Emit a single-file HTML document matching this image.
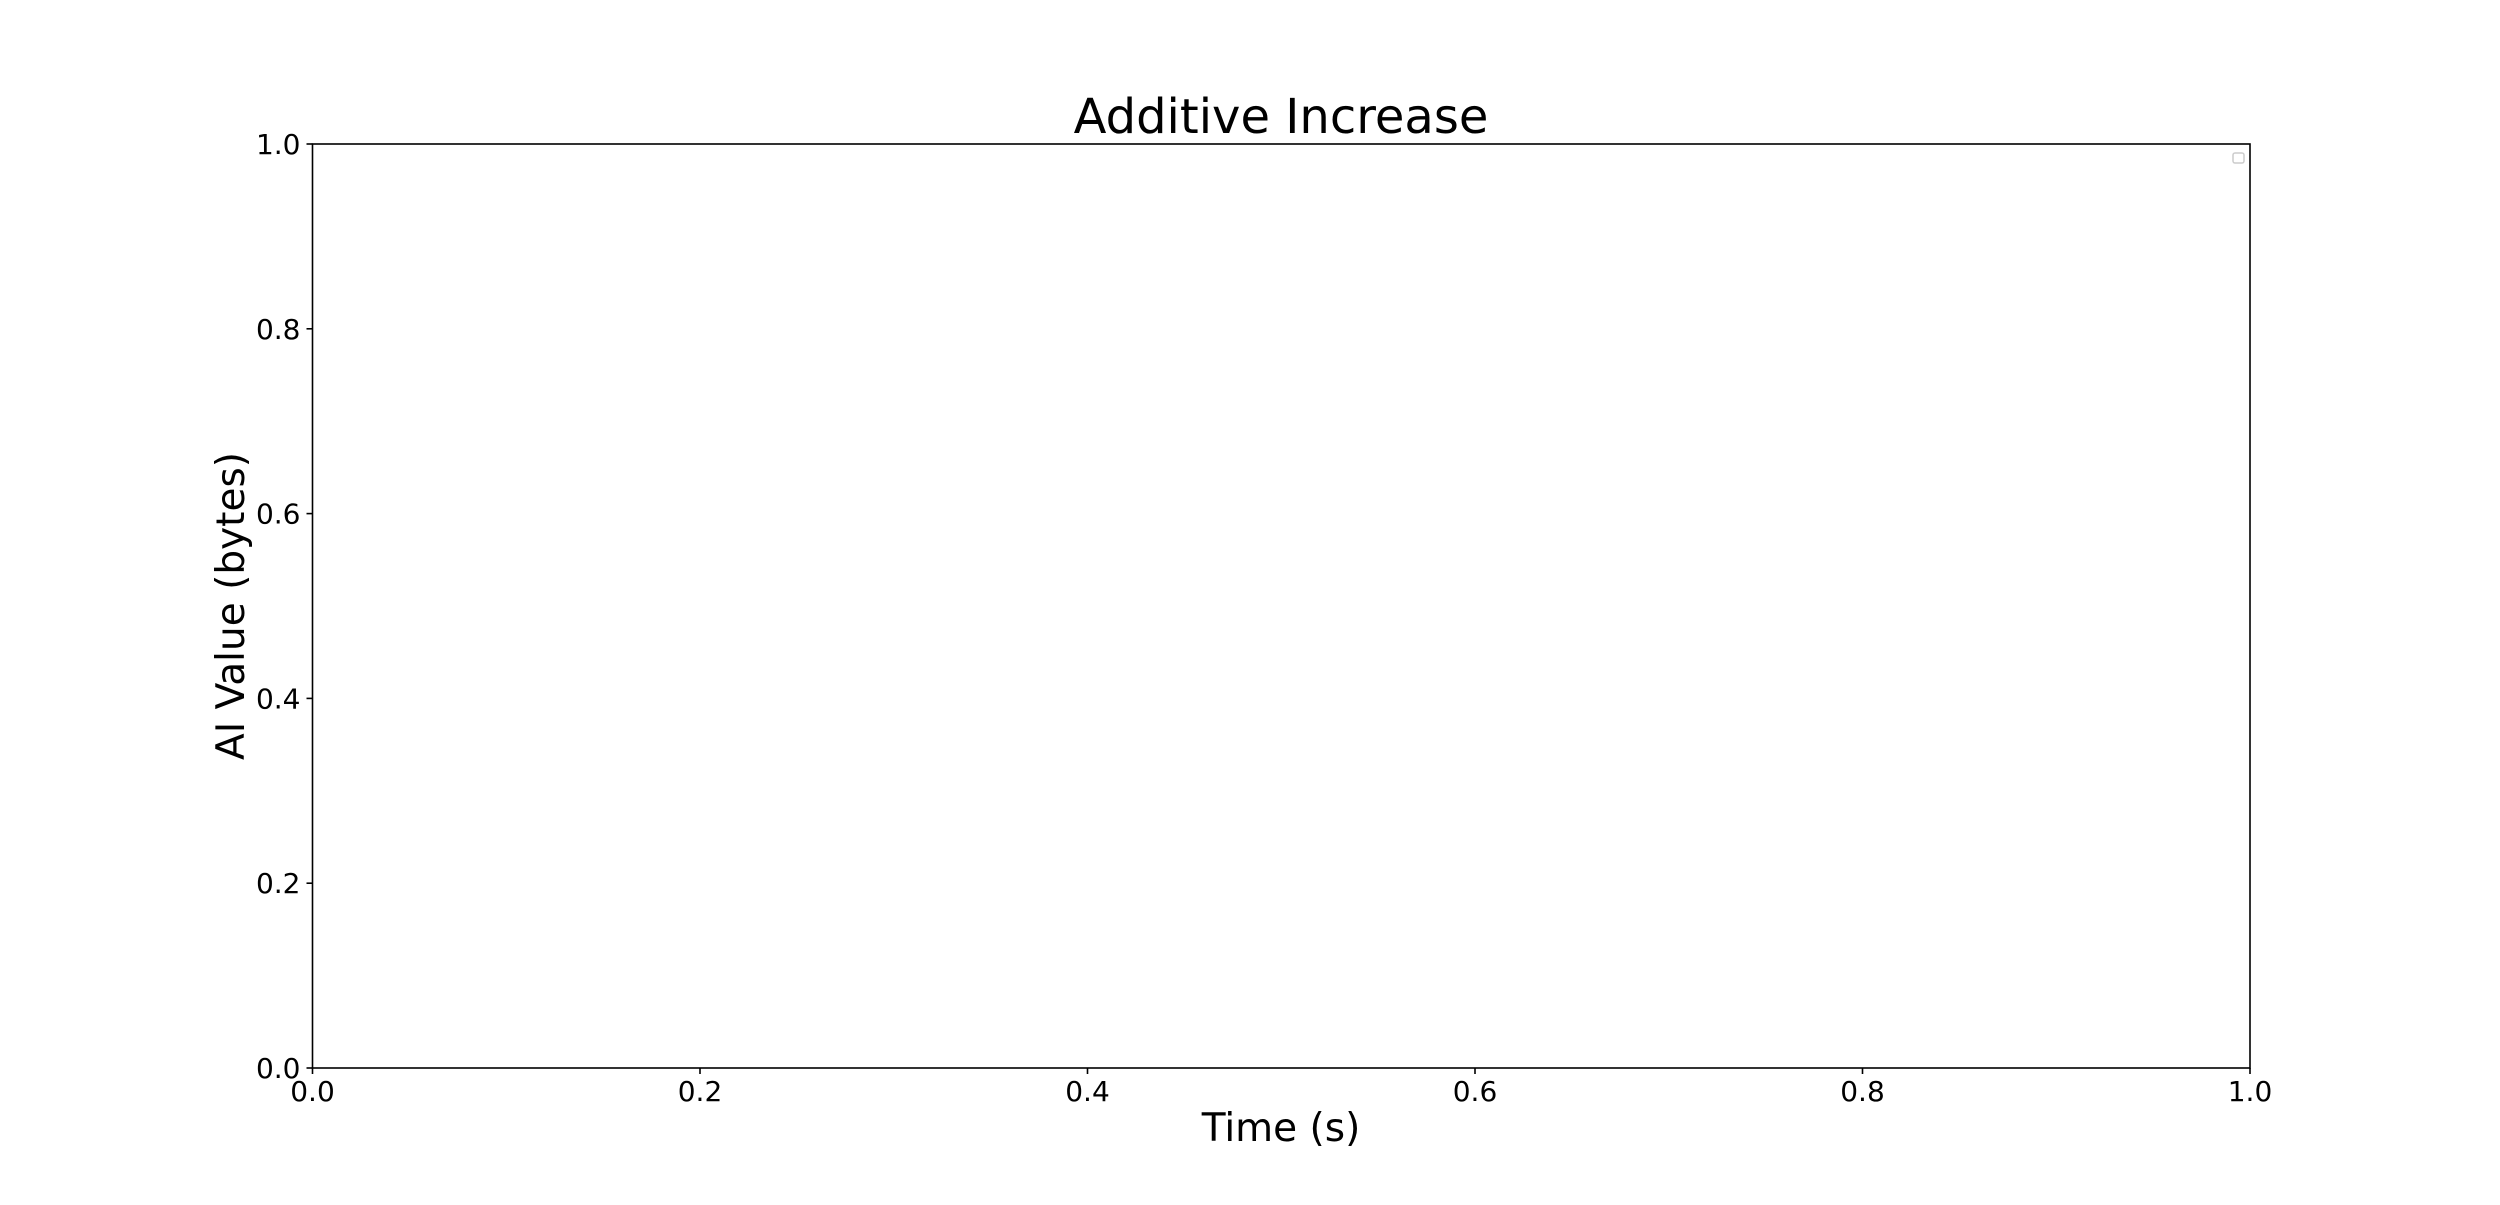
<!DOCTYPE html>
<html><head><meta charset="utf-8"><style>
body{margin:0;background:#fff;}
svg text{font-family:"DejaVu Sans","Liberation Sans",sans-serif;fill:#000;}
</style></head><body>
<svg id="chart" width="2500" height="1200" viewBox="0 0 2500 1200" xmlns="http://www.w3.org/2000/svg">
<rect width="2500" height="1200" fill="#fff"/>
<text x="1281" y="133" font-size="48" text-anchor="middle">Additive Increase</text>
<text x="1281" y="1141" font-size="39" text-anchor="middle">Time (s)</text>
<text transform="translate(244,606) rotate(-90)" font-size="39" text-anchor="middle">AI Value (bytes)</text>
<g id="ticks"></g>
<rect x="312.5" y="144" width="1937.5" height="924" fill="none" stroke="#000" stroke-width="1.6"/>
<rect x="2233" y="153" width="11" height="10" rx="2" fill="none" stroke="#ccc" stroke-width="1.5"/>
</svg>
<script>
const xTicks=[0.0,0.2,0.4,0.6,0.8,1.0];
const yTicks=[0.0,0.2,0.4,0.6,0.8,1.0];
const X0=312.5,X1=2250,Y0=1068,Y1=144;
function xs(v){return X0+(X1-X0)*v;}
function ys(v){return Y0-(Y0-Y1)*v;}
const g=document.getElementById('ticks');
const NS='http://www.w3.org/2000/svg';
xTicks.forEach(v=>{
  const l=document.createElementNS(NS,'line');
  
  
  l.setAttribute('x1',xs(v));l.setAttribute('x2',xs(v));l.setAttribute('y1',Y0);l.setAttribute('y2',Y0+6);
  l.setAttribute('stroke','#000');l.setAttribute('stroke-width','1.6');g.appendChild(l);
  const t=document.createElementNS(NS,'text');
  
  
  t.setAttribute('x',xs(v));t.setAttribute('y',Y0+33);t.setAttribute('font-size','28');t.setAttribute('text-anchor','middle');
  t.textContent=v.toFixed(1);g.appendChild(t);
});
yTicks.forEach(v=>{
  const l=document.createElementNS(NS,'line');
  
  
  l.setAttribute('x1',X0-6);l.setAttribute('x2',X0);l.setAttribute('y1',ys(v));l.setAttribute('y2',ys(v));
  l.setAttribute('stroke','#000');l.setAttribute('stroke-width','1.6');g.appendChild(l);
  const t=document.createElementNS(NS,'text');
  
  
  t.setAttribute('x',X0-12);t.setAttribute('y',ys(v)+10);t.setAttribute('font-size','28');t.setAttribute('text-anchor','end');
  t.textContent=v.toFixed(1);g.appendChild(t);
});
</script>
</body></html>
